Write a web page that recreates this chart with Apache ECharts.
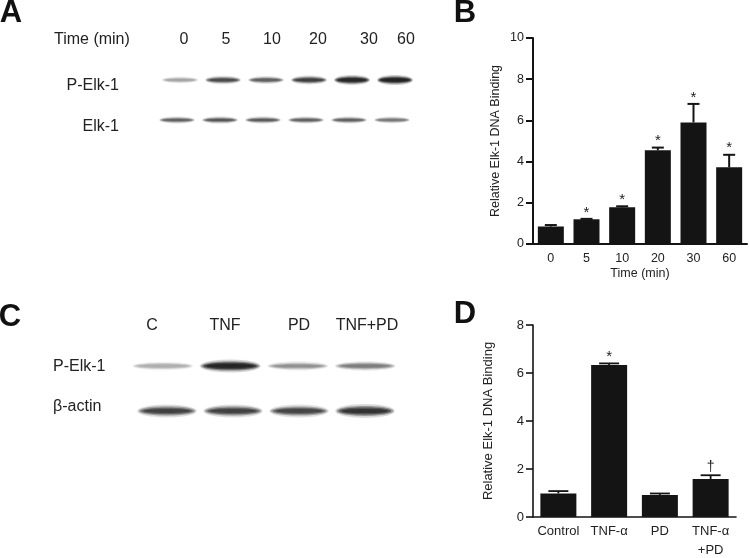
<!DOCTYPE html>
<html><head><meta charset="utf-8">
<style>html,body{margin:0;padding:0;background:#fff}#c{width:749px;height:558px}</style>
<script src="https://cdn.jsdelivr.net/npm/echarts@6/dist/echarts.min.js"></script>
</head><body><div id="c"></div>
<script>
// Panel B
const timeLabels = ['0','5','10','20','30','60'];
const bindingB = [0.85,1.2,1.78,4.55,5.9,3.72];
const errTopB = [0.92,1.22,1.83,4.68,6.8,4.33];
const marksB = ['','*','*','*','*','*'];
// Panel D
const treatLabels = ['Control','TNF-α','PD','TNF-α\n+PD'];
const bindingD = [0.98,6.33,0.92,1.58];
const errTopD = [1.08,6.4,0.98,1.74];
const marksD = ['','*','','†'];
// Blot band darkness (0-1)
const pElkA = [0.12,0.55,0.42,0.65,0.92,1];
const elkA = [0.42,0.48,0.45,0.42,0.42,0.3];
const pElkC = [0.08,0.95,0.2,0.28];
const actinC = [0.62,0.62,0.6,0.75];
const lanesC = ['C','TNF','PD','TNF+PD'];

const FONT = '"Liberation Sans", Arial, sans-serif';
const INK = '#141414', TXT = '#222';
const chart = echarts.init(document.getElementById('c'), null, {renderer:'canvas'});

const grids = [], xAxes = [], yAxes = [], series = [];

function barPanel(g, cats, vals, tops, marks, ymax, yint, opt){
  const i = grids.length;
  grids.push({left:g.left, top:g.top, width:g.width, height:g.height, outerBoundsMode:'none'});
  xAxes.push({type:'category', gridIndex:i, data:cats, boundaryGap:true,
    name:opt.xName||'', nameLocation:'middle', nameGap:opt.xGap||0,
    nameTextStyle:{fontFamily:FONT,fontSize:12.5,color:TXT},
    axisLine:{lineStyle:{color:INK,width:opt.lw}},
    axisTick:{alignWithLabel:true,length:5,lineStyle:{color:INK,width:opt.lw}},
    axisLabel:{fontFamily:FONT,fontSize:opt.fs,color:TXT,margin:opt.xm,interval:0,lineHeight:opt.lh,verticalAlign:'top'}});
  yAxes.push({type:'value', gridIndex:i, min:0, max:ymax, interval:yint,
    name:'Relative Elk-1 DNA Binding', nameLocation:'middle', nameRotate:90, nameGap:opt.yGap,
    nameTextStyle:{fontFamily:FONT,fontSize:opt.nameFs,color:TXT},
    splitLine:{show:false},
    axisLine:{show:true,lineStyle:{color:INK,width:opt.lw}},
    axisTick:{show:true,length:7,lineStyle:{color:INK,width:opt.lw}},
    axisLabel:{fontFamily:FONT,fontSize:opt.fsY,color:TXT,margin:9}});
  series.push({type:'bar', xAxisIndex:i, yAxisIndex:i, data:vals, barWidth:opt.bw,
    itemStyle:{color:INK}, silent:true, animation:false});
  series.push({type:'custom', xAxisIndex:i, yAxisIndex:i, silent:true, animation:false, clip:false,
    data:cats.map((c,k)=>[k,vals[k],tops[k]]),
    encode:{x:0,y:[1,2]},
    renderItem(p,api){
      const k = api.value(0);
      const a = api.coord([k,api.value(1)]), b = api.coord([k,api.value(2)]);
      const cw = opt.cap;
      const st = {stroke:INK,lineWidth:opt.errW};
      const ch = [
        {type:'line',shape:{x1:a[0],y1:a[1],x2:b[0],y2:b[1]},style:st},
        {type:'line',shape:{x1:b[0]-cw,y1:b[1],x2:b[0]+cw,y2:b[1]},style:st}];
      if(marks[k]) ch.push({type:'text',style:{text:marks[k],x:b[0],y:b[1]-(marks[k]==='*'?-1:1),
        align:'center',verticalAlign:'bottom',fontFamily:FONT,fontSize:marks[k]==='*'?15:14,fill:TXT}});
      return {type:'group',children:ch};
    }});
}

function blotRow(g, vals, wf, thick){
  const i = grids.length;
  const cats = vals.map((v,k)=>String(k));
  grids.push({left:g.left, top:g.top, width:g.width, height:g.height, outerBoundsMode:'none'});
  xAxes.push({type:'category', gridIndex:i, data:cats, show:false});
  yAxes.push({type:'value', gridIndex:i, min:0, max:1, show:false});
  series.push({type:'custom', xAxisIndex:i, yAxisIndex:i, silent:true, animation:false, clip:false,
    data:vals.map((v,k)=>[k,0.5,v]),
    encode:{x:0,y:1},
    renderItem(p,api){
      const c = api.coord([api.value(0),0.5]);
      const d = api.value(2);
      const w = api.size([1,0])[0]*wf;
      const h = thick*(0.75+0.45*d);
      const layer = (wk,hk,a)=>({type:'ellipse',
        shape:{cx:c[0],cy:c[1],rx:w/2*wk,ry:h/2*hk},
        style:{fill:`rgba(25,25,25,${a})`,shadowBlur:2.5,shadowColor:`rgba(25,25,25,${a})`}});
      return {type:'group',children:[
        layer(1.05,1.7,0.05+0.1*d),
        layer(1,1.2,0.1+0.25*d),
        layer(0.92,0.85,0.08+0.45*d),
        layer(0.82,0.5,0.02+0.6*d)
      ]};
    }});
}

barPanel({left:533,top:38,width:214,height:206}, timeLabels, bindingB, errTopB, marksB, 10, 2,
  {lw:2,fs:12.5,fsY:12.5,nameFs:12.5,bw:26,cap:6,errW:2,yGap:31,xName:'Time (min)',xGap:23,xm:7,lh:15});
barPanel({left:533,top:325,width:203,height:192}, treatLabels, bindingD, errTopD, marksD, 8, 2,
  {lw:1.6,fs:13,fsY:13,nameFs:13,bw:36,cap:10,errW:1.8,yGap:38,xm:5,lh:19});

blotRow({left:158.5,top:70,width:258,height:20}, pElkA, 0.8, 5);
blotRow({left:155.5,top:110,width:258,height:20}, elkA, 0.8, 4.5);
blotRow({left:129,top:356,width:270,height:20}, pElkC, 0.86, 6.5);
blotRow({left:134,top:401,width:264,height:20}, actinC, 0.86, 7.5);

function txt(text,x,y,size,opts){
  return {type:'text',silent:true,x,y,style:Object.assign({text,fontFamily:FONT,fontSize:size,fill:TXT,
    align:'center',verticalAlign:'middle'},opts||{})};
}
const LANE_FS = 16;
const gfx = [
  txt('A',11,13,31,{fontWeight:'bold',fill:'#111'}),
  txt('B',465,13,31,{fontWeight:'bold',fill:'#111'}),
  txt('C',10,317,31,{fontWeight:'bold',fill:'#111'}),
  txt('D',465,314,31,{fontWeight:'bold',fill:'#111'}),
  txt('Time (min)',54,40,LANE_FS,{align:'left'}),
  txt('P-Elk-1',119,86,LANE_FS,{align:'right'}),
  txt('Elk-1',119,127,LANE_FS,{align:'right'}),
  txt('P-Elk-1',53,367,LANE_FS,{align:'left'}),
  txt('β-actin',53,407,LANE_FS,{align:'left'})
];
[184,226,272,318,369,406].forEach((x,k)=>gfx.push(txt(timeLabels[k],x,40,LANE_FS)));
[152,225,299,367].forEach((x,k)=>gfx.push(txt(lanesC[k],x,326,LANE_FS)));

chart.setOption({animation:false,backgroundColor:'#fff',grid:grids,xAxis:xAxes,yAxis:yAxes,series,graphic:gfx});
</script></body></html>
